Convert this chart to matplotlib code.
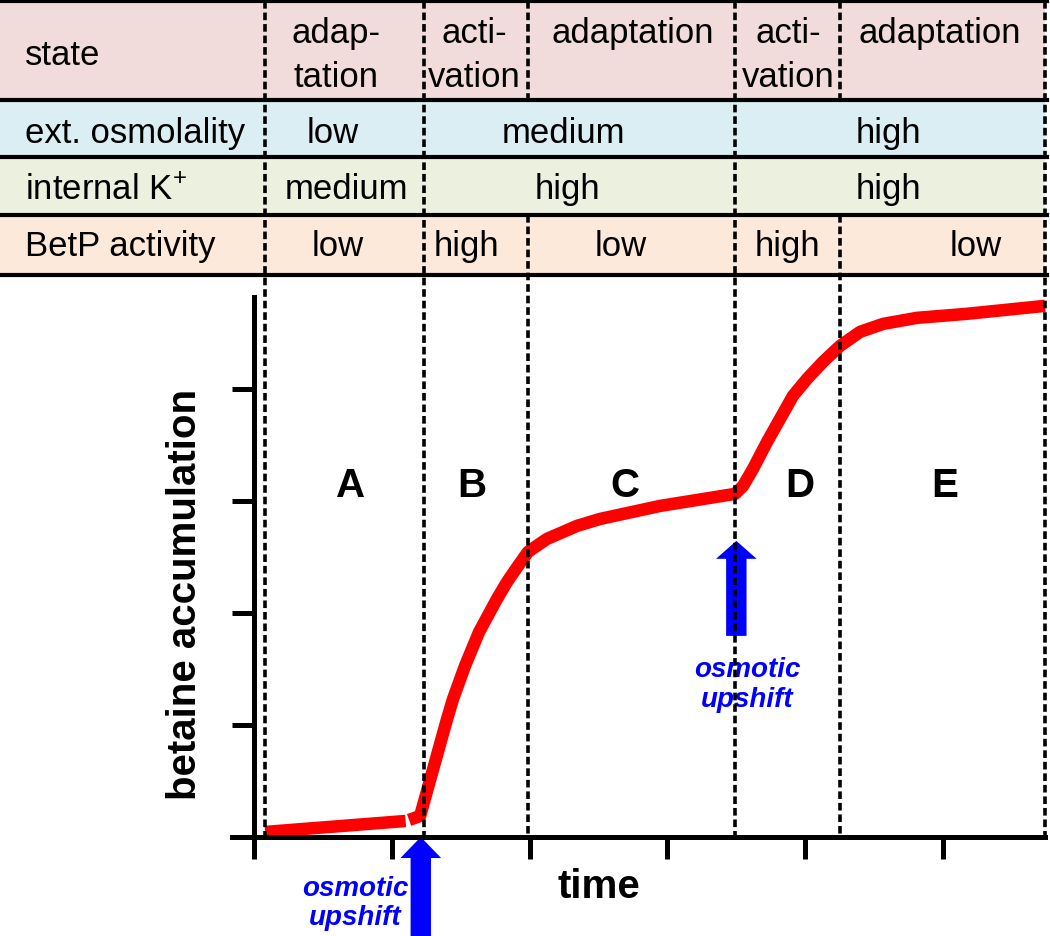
import matplotlib.pyplot as plt
from matplotlib.patches import FancyArrow, Rectangle

plt.rcParams['font.family'] = ['Liberation Sans', 'DejaVu Sans']
plt.rcParams['mathtext.fontset'] = 'custom'
plt.rcParams['mathtext.rm'] = 'Liberation Sans'
plt.rcParams['lines.scale_dashes'] = False

# betaine accumulation curve, time and level in tick units
lag_time = [0.08, 1.10]
lag_level = [0.045, 0.143]
time = [1.125, 1.205, 1.401, 1.444, 1.531, 1.633, 1.763, 1.836, 1.916, 1.988,
        2.126, 2.344, 2.511, 2.946, 3.491, 3.549, 3.621, 3.723, 3.817, 3.911,
        4.013, 4.129, 4.253, 4.398, 4.565, 4.811, 5.174, 5.74]
level = [0.152, 0.188, 1.054, 1.232, 1.527, 1.830, 2.125, 2.277, 2.420, 2.545,
         2.661, 2.777, 2.839, 2.955, 3.063, 3.134, 3.286, 3.527, 3.732, 3.938,
         4.089, 4.241, 4.384, 4.509, 4.580, 4.634, 4.670, 4.741]

# phases of the experiment
phase_edges = [0.08, 1.23, 1.99, 3.49, 4.25, 5.74]
phase_names = ['A', 'B', 'C', 'D', 'E']
phase_label_t = [0.70, 1.58, 2.69, 3.96, 5.01]
upshift_times = [1.21, 3.50]

# table above the plot
row_titles = ['state', 'ext. osmolality', 'internal K$^{+}$', 'BetP activity']
state_cells = ['adap-\ntation', 'acti-\nvation', 'adaptation', 'acti-\nvation', 'adaptation']
osmolality_cells = ['low', 'medium', 'high']
potassium_cells = ['medium', 'high', 'high']
betp_cells = ['low', 'high', 'low', 'high', 'low']
row_colors = ['#f2dcdb', '#daeef3', '#ebf1de', '#fde9d9']

fig = plt.figure(figsize=(10.5, 9.37), dpi=100)
W, H = 1050, 937

# main plot axes (pixel layout: y axis at x=254, x axis at y=838)
ax = fig.add_axes([232 / W, (H - 838) / H, (1045 - 232) / W, (838 - 298) / H])
ax.set_xlim(-0.16, 5.74)
ax.set_ylim(0, 4.82)
ax.patch.set_visible(False)
for s in ['top', 'right']:
    ax.spines[s].set_visible(False)
ax.spines['left'].set_position(('data', 0))
for s in ['left', 'bottom']:
    ax.spines[s].set_linewidth(3.6)
ax.set_xticks(range(6))
ax.set_yticks(range(5))
ax.tick_params(length=16, width=3.6, labelbottom=False, labelleft=False, direction='out')

ax.plot(lag_time, lag_level, color='#ff0000', lw=9, solid_capstyle='butt', clip_on=False)
ax.plot(time, level, color='#ff0000', lw=9, solid_capstyle='butt',
        solid_joinstyle='round', clip_on=False)

for t, name in zip(phase_label_t, phase_names):
    ax.text(t, 3.045, name, ha='center', va='baseline', fontsize=29, fontweight='bold')

# osmotic upshift arrows
arrow_specs = [(upshift_times[0], -0.95, 0.95, 0.1875),
               (upshift_times[1], 1.795, 0.848, 0.16)]
label_specs = [(0.733, -0.518, -0.777), (3.578, 1.438, 1.170)]
for (t, y0, dy, hl), (lx, b1, b2) in zip(arrow_specs, label_specs):
    ax.add_patch(FancyArrow(t, y0, 0, dy, width=0.148, head_width=0.295, head_length=hl,
                            length_includes_head=True, color='#0000ff', lw=0, clip_on=False))
    ax.text(lx, b1, 'osmotic', ha='center', va='baseline', fontsize=20,
            fontweight='bold', style='italic', color='#0000ff')
    ax.text(lx, b2, 'upshift', ha='center', va='baseline', fontsize=20,
            fontweight='bold', style='italic', color='#0000ff')

ax.text(2.50, -0.536, 'time', ha='center', va='baseline', fontsize=29, fontweight='bold')
ax.text(-0.50, 2.17, 'betaine accumulation', ha='center', va='center', rotation=90,
        fontsize=29, fontweight='bold')

# overlay in pixel coordinates for the table and the dashed phase lines
ov = fig.add_axes([0, 0, 1, 1], zorder=3)
ov.set_xlim(0, W)
ov.set_ylim(H, 0)
ov.axis('off')

fig.canvas.draw()
edge_px = [ax.transData.transform((t, 0))[0] for t in phase_edges]

row_edges = [2, 101, 158, 216, 276]
for i, c in enumerate(row_colors):
    ov.add_patch(Rectangle((0, row_edges[i]), edge_px[-1], row_edges[i + 1] - row_edges[i],
                           facecolor=c, edgecolor='none', zorder=0))
for y in row_edges:
    ov.plot([0, edge_px[-1] + 2], [y, y], color='black', lw=3.0, zorder=2)

dash = (0, (5.5, 2.8))
for i, x in enumerate(edge_px):
    if i in (2, 4):
        ov.plot([x, x], [row_edges[0], row_edges[1]], color='black', lw=2.6, ls=dash, zorder=3)
        ov.plot([x, x], [row_edges[3], 838], color='black', lw=2.6, ls=dash, zorder=3)
    else:
        ov.plot([x, x], [row_edges[0], 838], color='black', lw=2.6, ls=dash, zorder=3)

fs = 25
baselines = [65, 143, 199, 256]
for title, b in zip(row_titles, baselines):
    ov.text(25, b, title, ha='left', va='baseline', fontsize=fs)

state_x = [336, 474, 633, 788, 940]
for x, cell in zip(state_x, state_cells):
    for k, line in enumerate(cell.split('\n')):
        ov.text(x, 43 + 44 * k, line, ha='center', va='baseline', fontsize=fs)

for x, cell in zip([333, 563, 888], osmolality_cells):
    ov.text(x, baselines[1], cell, ha='center', va='baseline', fontsize=fs)
for x, cell in zip([346, 567, 888], potassium_cells):
    ov.text(x, baselines[2], cell, ha='center', va='baseline', fontsize=fs)
for x, cell in zip([338, 466, 621, 787, 976], betp_cells):
    ov.text(x, baselines[3], cell, ha='center', va='baseline', fontsize=fs)

fig.savefig('out.png', dpi=100)
